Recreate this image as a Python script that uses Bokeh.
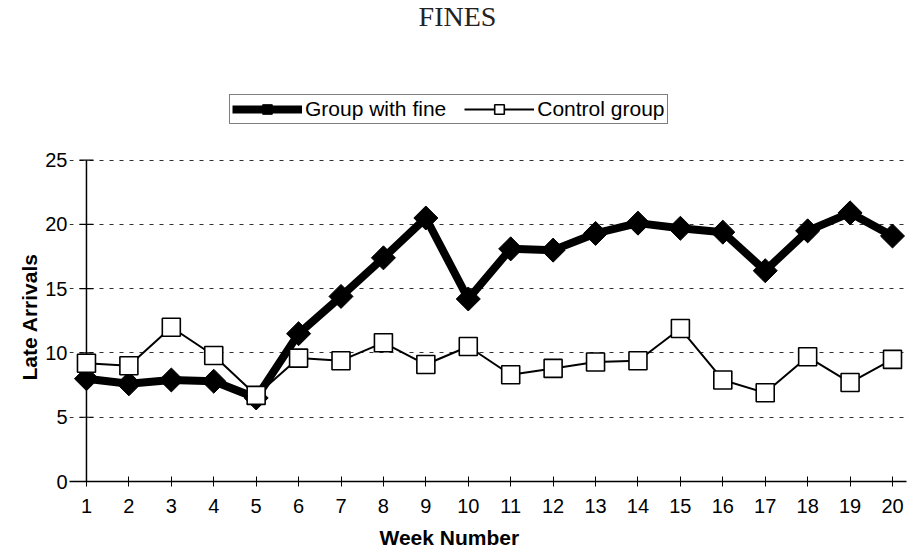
import numpy as np
from bokeh.plotting import figure
from bokeh.models import Range1d, FixedTicker, Legend, LegendItem, Label, Title
from bokeh.embed import file_html
from bokeh.resources import INLINE

weeks = list(range(1, 21))
fine_group = [8.0, 7.6, 7.9, 7.8, 6.5, 11.5, 14.4, 17.4, 20.5, 14.2,
              18.1, 18.0, 19.3, 20.1, 19.7, 19.4, 16.4, 19.5, 20.9, 19.1]
control_group = [9.2, 9.0, 12.0, 9.8, 6.7, 9.6, 9.4, 10.8, 9.1, 10.5,
                 8.3, 8.8, 9.3, 9.4, 11.9, 7.9, 6.9, 9.7, 7.7, 9.5]
y_ticks = [0, 5, 10, 15, 20, 25]
title_text = "FINES"
x_label = "Week Number"
y_label = "Late Arrivals"
series_names = ["Group with fine", "Control group"]

SANS = "Liberation Sans"

# frame spans from the top of the page down to y=0 so that title/legend can live inside it
FRAME_TOP = 0
FRAME_BOTTOM = 482
PX_PER_UNIT = (FRAME_BOTTOM - 160) / y_ticks[-1]
y_top = (FRAME_BOTTOM - FRAME_TOP) / PX_PER_UNIT

p = figure(width=908, height=556, output_backend="svg", toolbar_location=None,
           x_range=Range1d(0.6, 20.33), y_range=Range1d(0, y_top),
           min_border_left=69, min_border_right=2, min_border_top=FRAME_TOP,
           min_border_bottom=556 - FRAME_BOTTOM)
p.outline_line_color = None
p.background_fill_color = "white"
p.border_fill_color = "white"

# x axis
xa = p.xaxis[0]
xa.ticker = FixedTicker(ticks=weeks)
xa.axis_line_color = "black"
xa.axis_line_width = 1.5
xa.major_tick_in = 5
xa.major_tick_out = 5
xa.major_tick_line_color = "black"
xa.minor_tick_line_color = None
xa.major_label_text_font = SANS
xa.major_label_text_font_size = "20px"
xa.major_label_text_color = "black"
xa.major_label_standoff = 12

# y axis
ya = p.yaxis[0]
ya.ticker = FixedTicker(ticks=y_ticks)
ya.axis_line_color = None
ya.major_tick_line_color = None
ya.major_tick_in = 0
ya.major_tick_out = 0
ya.minor_tick_line_color = None
ya.major_label_text_font = SANS
ya.major_label_text_font_size = "20px"
ya.major_label_text_color = "black"
ya.major_label_standoff = 2

p.xgrid.grid_line_color = None
p.ygrid.ticker = FixedTicker(ticks=y_ticks[1:])
p.ygrid.grid_line_color = "#333333"
p.ygrid.grid_line_dash = "4 6"
p.ygrid.grid_line_width = 1

# y axis line at week 1 with small ticks
p.segment(x0=[weeks[0]], y0=[y_ticks[0]], x1=[weeks[0]], y1=[y_ticks[-1]],
          line_color="black", line_width=1.5)
p.scatter(x=[weeks[0]] * len(y_ticks), y=y_ticks, marker="dash", size=14,
          line_color="black", line_width=1.2)

# series
fl = p.line(weeks, fine_group, line_color="black", line_width=8, line_join="round")
fm = p.scatter(weeks, fine_group, marker="square", angle=np.pi / 4, size=17,
               fill_color="black", line_color="black")
cl = p.line(weeks, control_group, line_color="black", line_width=2)
cm = p.scatter(weeks, control_group, marker="square", size=18,
               fill_color="white", line_color="black", line_width=1.6)

legend = Legend(items=[LegendItem(label=series_names[0], renderers=[fl, fm]),
                       LegendItem(label=series_names[1], renderers=[cl, cm])],
                location=(160, 357), orientation="horizontal",
                glyph_width=70, glyph_height=24, label_height=22,
                label_standoff=3, spacing=18, padding=2, margin=0,
                border_line_color="black", border_line_width=1.2,
                background_fill_color="white", background_fill_alpha=1,
                label_text_font=SANS, label_text_font_size="21px",
                label_text_color="black")
p.add_layout(legend, "center")

p.add_layout(Label(x=388, y=FRAME_BOTTOM - 17, x_units="screen", y_units="screen",
                   text=title_text, text_font="Liberation Serif", text_font_size="28px",
                   text_color="#222222", text_align="center", text_baseline="alphabetic"))
p.add_layout(Title(text=y_label, align="left", offset=FRAME_BOTTOM - 381, standoff=4,
                   text_font=SANS, text_font_size="21px", text_font_style="bold",
                   text_color="black"), "left")
p.add_layout(Title(text=x_label, align="left", offset=310, standoff=16,
                   text_font=SANS, text_font_size="21px", text_font_style="bold",
                   text_color="black"), "below")

open("out.html", "w").write(file_html(p, INLINE))
